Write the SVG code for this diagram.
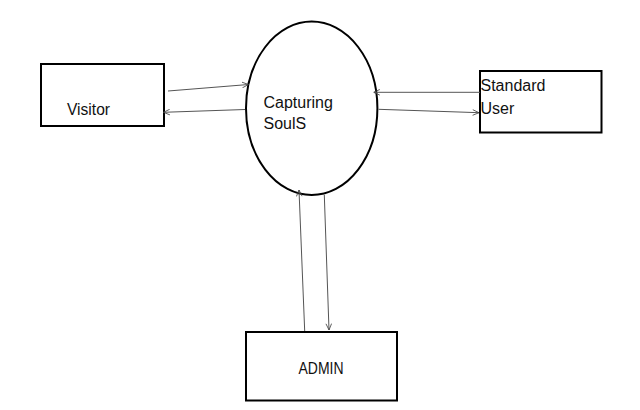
<svg xmlns="http://www.w3.org/2000/svg" width="640" height="410" viewBox="0 0 640 410">
<defs>
<marker id="arr" viewBox="0 0 10 10" refX="10" refY="5" markerWidth="7" markerHeight="7" orient="auto" markerUnits="userSpaceOnUse">
<path d="M1,1 L10,5 L1,9" fill="none" stroke="#444" stroke-width="1.2"/>
</marker>
<style>
.box{fill:#fff;stroke:#000;stroke-width:2}
.t{font-family:"Liberation Sans",Arial,sans-serif;font-size:16px;fill:#111}
.c line{stroke:#555;stroke-width:1;marker-end:url(#arr)}
</style>
</defs>
<rect width="640" height="410" fill="#fff"/>
<g id="visitor">
<rect class="box" x="41" y="64" width="123" height="62"/>
<text class="t" x="67" y="115" font-size="17" textLength="43" lengthAdjust="spacingAndGlyphs">Visitor</text>
</g>
<g id="capturing-souls">
<ellipse cx="311.7" cy="108.3" rx="65.7" ry="86.7" fill="#fff" stroke="#000" stroke-width="2"/>
<text class="t" x="263.5" y="107.5">Capturing</text>
<text class="t" x="263.5" y="128.5">SoulS</text>
</g>
<g id="standard-user">
<rect class="box" x="480" y="71" width="121.5" height="61.5"/>
<text class="t" x="480.5" y="91">Standard</text>
<text class="t" x="480.5" y="113.5">User</text>
</g>
<g id="admin">
<rect class="box" x="246" y="332" width="151" height="68.5"/>
<text class="t" x="298.5" y="373.5" font-size="17" textLength="45" lengthAdjust="spacingAndGlyphs">ADMIN</text>
</g>
<g id="connectors" class="c">
<line x1="168" y1="91" x2="248.5" y2="84.5"/>
<line x1="245" y1="109.5" x2="163.5" y2="112.3"/>
<line x1="480" y1="92.3" x2="373.5" y2="92.3"/>
<line x1="378.5" y1="109.3" x2="479" y2="112.7"/>
<line x1="304.7" y1="331" x2="299" y2="190"/>
<line x1="324.3" y1="195" x2="329" y2="330"/>
</g>
</svg>
